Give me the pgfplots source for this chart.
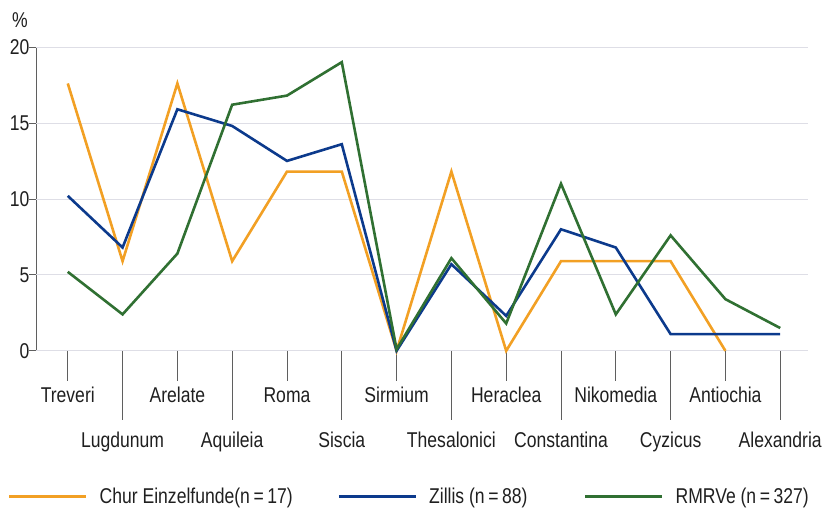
\documentclass[border=0pt]{standalone}
\usepackage{fontspec}
\setmainfont{Liberation Sans}[FakeStretch=0.82]
\usepackage{pgfplots}
\pgfplotsset{compat=1.18}

\definecolor{cOrange}{RGB}{242,160,36}
\definecolor{cBlue}{RGB}{12,58,140}
\definecolor{cGreen}{RGB}{48,112,50}
\definecolor{cGrid}{RGB}{222,222,230}
\definecolor{cAxis}{RGB}{95,95,95}

% shares in percent per mint
\pgfplotstableread{
x chur zillis rmrve
0  17.6 10.2 5.2
1  5.9  6.8  2.4
2  17.6 15.9 6.4
3  5.9  14.8 16.2
4  11.8 12.5 16.8
5  11.8 13.6 19.0
6  0    0    0.1
7  11.8 5.7  6.1
8  0    2.3  1.8
9  5.9  8.0  11.0
10 5.9  6.8  2.4
11 5.9  1.1  7.6
12 0    1.1  3.4
13 nan  1.1  1.5
}\mints

\begin{document}
\begin{tikzpicture}
\begin{axis}[
    scale only axis,
    width=772bp, height=304bp,
    xmin=-0.58, xmax=13.5,
    ymin=0, ymax=20,
    clip=false,
    axis x line*=bottom,
    axis y line*=left,
    axis line style={cAxis, line width=0.8pt},
    every tick/.style={cAxis, line width=0.8pt},
    tick align=outside,
    major tick length=30bp,
    ytick=\empty,
    extra y ticks={0,5,10,15,20},
    extra y tick style={major tick length=7bp, ymajorgrids, yticklabel style={xshift=4bp}},
    grid style={cGrid, line width=0.8pt},
    /pgf/number format/assume math mode=true,
    tick label style={font=\fontsize{21.5}{25}\selectfont, text=black!88},
    xtick={0,2,...,12},
    xticklabels={Treveri,Arelate,Roma,Sirmium,Heraclea,Nikomedia,Antiochia},
    xticklabel style={anchor=base, yshift=-22bp},
    extra x ticks={1,3,...,13},
    extra x tick labels={Lugdunum,Aquileia,Siscia,Thesalonici,Constantina,Cyzicus,Alexandria},
    extra x tick style={major tick length=69bp, xticklabel style={yshift=-6bp}},
    unbounded coords=jump,
    legend columns=3,
    legend style={at={(axis description cs:-0.0363,-0.48)}, anchor=west,
        draw=none, fill=none, inner sep=0pt, font=\fontsize{21.5}{25}\selectfont,
        text=black!88,
        /tikz/every odd column/.style={column sep=10bp}},
    legend cell align=left,
    legend image code/.code={\draw[#1] (0bp,0bp) -- (77bp,0bp);},
]
\addplot[cOrange, line width=2.6bp] table[x=x, y=chur] {\mints};
\addlegendentry{\makebox[236bp][l]{Chur Einzelfunde(n\,=\,17)}}
\addplot[cBlue, line width=2.6bp] table[x=x, y=zillis] {\mints};
\addlegendentry{\makebox[153bp][l]{Zillis (n\,=\,88)}}
\addplot[cGreen, line width=2.6bp] table[x=x, y=rmrve] {\mints};
\addlegendentry{RMRVe (n\,=\,327)}
\node[font=\fontsize{21.5}{25}\selectfont, text=black!88] at (axis description cs:-0.0207,1.089) {\%};
\end{axis}
\useasboundingbox (-36bp,-161bp) rectangle (789bp,351bp);
\end{tikzpicture}
\end{document}
